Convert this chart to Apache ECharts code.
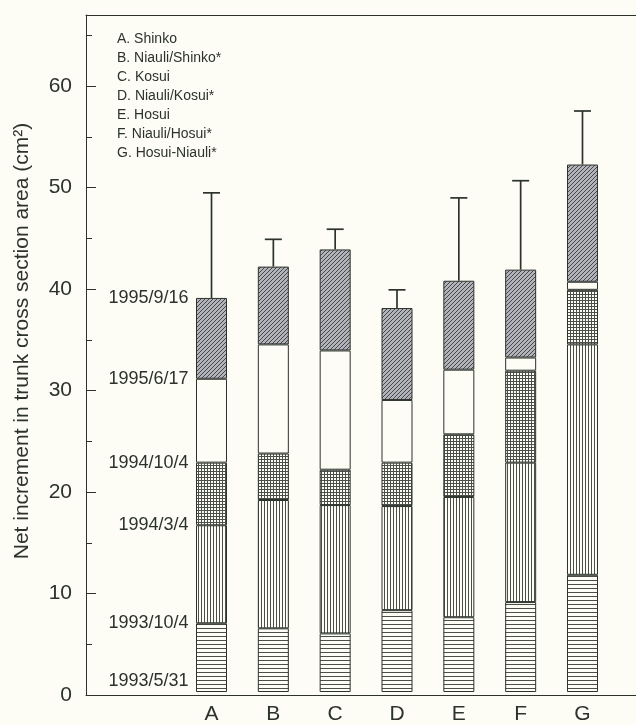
<!DOCTYPE html>
<html><head><meta charset="utf-8">
<script src="https://cdn.jsdelivr.net/npm/echarts@6/dist/echarts.min.js"></script>
<style>html,body{margin:0;padding:0;background:#fdfcf5}#c{width:636px;height:725px}</style>
</head><body><div id="c"></div>
<script>
// ---- data ----
const categories = ['A', 'B', 'C', 'D', 'E', 'F', 'G'];
const legendLabels = ['A. Shinko', 'B. Niauli/Shinko*', 'C. Kosui', 'D. Niauli/Kosui*', 'E. Hosui', 'F. Niauli/Hosui*', 'G. Hosui-Niauli*'];
const periodDates = ['1993/5/31', '1993/10/4', '1994/3/4', '1994/10/4', '1995/6/17', '1995/9/16'];
// increments per period (cm^2)
const seg1 = [6.8, 6.3, 5.8, 8.1, 7.4, 8.9, 11.6];   // 1993/5/31 - 1993/10/4
const seg2 = [9.7, 12.7, 12.7, 10.3, 11.9, 13.8, 22.8]; // 1993/10/4 - 1994/3/4
const seg3 = [6.2, 4.6, 3.5, 4.3, 6.2, 9.1, 5.4];     // 1994/3/4 - 1994/10/4
const seg4 = [8.3, 10.8, 11.8, 6.2, 6.4, 1.3, 0.8];   // 1994/10/4 - 1995/6/17
const seg5 = [8.0, 7.7, 10.0, 9.1, 8.8, 8.7, 11.6];   // 1995/6/17 - 1995/9/16
const errUpper = [10.4, 2.7, 2.0, 1.8, 8.2, 8.8, 5.3];
const yMin = 0, yMax = 67, yInterval = 10;

// ---- styling helpers ----
const INK = '#2b332c';
const FONT = 'Liberation Sans, Arial, sans-serif';
function pattern(kind) {
  const c = document.createElement('canvas');
  const s = kind === 'h' ? 4 : 3;
  c.width = s; c.height = s;
  const g = c.getContext('2d');
  if (kind === 'd') {
    c.width = 4; c.height = 4;
    g.fillStyle = '#b3b3ba'; g.fillRect(0, 0, 4, 4);
    g.fillStyle = '#45454c';
    for (let i = 0; i < 4; i++) g.fillRect(i, 3 - i, 1, 1);
  } else {
    g.fillStyle = '#fdfcf5'; g.fillRect(0, 0, s, s);
    g.fillStyle = '#4a4f4a';
    if (kind === 'h' || kind === 'g') g.fillRect(0, 0, s, 1);
    if (kind === 'v' || kind === 'g') g.fillRect(0, 0, 1, s);
  }
  return { image: c, repeat: 'repeat' };
}
const fills = [pattern('h'), pattern('v'), pattern('g'), '#fdfcf5', pattern('d')];
const segs = [seg1, seg2, seg3, seg4, seg5];

const totals = categories.map((_, i) => segs.reduce((s, a) => s + a[i], 0));
const cumA = [0];
segs.forEach(a => cumA.push(cumA[cumA.length - 1] + a[0]));

const chart = echarts.init(document.getElementById('c'), null, { renderer: 'canvas' });

const barSeries = segs.map((arr, k) => ({
  type: 'bar', stack: 'net', xAxisIndex: 2, yAxisIndex: 1,
  barWidth: 31, data: arr,
  itemStyle: { color: fills[k], borderColor: INK, borderWidth: 1 },
  silent: true, animation: false
}));

const option = {
  backgroundColor: '#fdfcf5',
  animation: false,
  grid: [
    { left: 86, top: 15, width: 600, height: 680 },
    { left: 180.6, top: 15, width: 432.8, height: 680 }
  ],
  xAxis: [
    { gridIndex: 0, type: 'value', min: 0, max: 1, position: 'bottom', axisLine: { lineStyle: { color: INK } }, axisTick: { show: false }, axisLabel: { show: false }, splitLine: { show: false } },
    { gridIndex: 0, type: 'value', min: 0, max: 1, position: 'top', axisLine: { lineStyle: { color: INK } }, axisTick: { show: false }, axisLabel: { show: false }, splitLine: { show: false } },
    { gridIndex: 1, type: 'category', data: categories, axisLine: { show: false }, axisTick: { show: false },
      axisLabel: { fontSize: 21, color: INK, fontFamily: FONT, margin: 12 } }
  ],
  yAxis: [
    { gridIndex: 0, type: 'value', min: yMin, max: yMax, interval: yInterval,
      axisLine: { show: true, lineStyle: { color: INK } },
      axisTick: { show: true, inside: true, length: 10, lineStyle: { color: INK } },
      minorTick: { show: true, splitNumber: 2, length: 6, lineStyle: { color: INK } },
      axisLabel: { fontSize: 21, color: INK, fontFamily: FONT, margin: 14, showMaxLabel: false,
        formatter: v => (v % 10 === 0 ? String(v) : '') },
      splitLine: { show: false } },
    { gridIndex: 1, type: 'value', min: yMin, max: yMax, show: false, splitLine: { show: false } }
  ],
  graphic: [
    { type: 'text', x: 22, y: 341, rotation: Math.PI / 2,
      style: { text: 'Net increment in trunk cross section area (cm²)', font: '21px ' + FONT, fill: INK, align: 'center', verticalAlign: 'middle' } },
    ...legendLabels.map((t, i) => ({
      type: 'text', left: 117, top: 32 + i * 19,
      style: { text: t, font: '14px ' + FONT, fill: INK }
    }))
  ],
  series: [
    ...barSeries,
    { type: 'custom', xAxisIndex: 2, yAxisIndex: 1, silent: true,
      data: categories.map((c, i) => [i, totals[i], totals[i] + errUpper[i]]),
      renderItem: (params, api) => {
        const p1 = api.coord([api.value(0), api.value(1)]);
        const p2 = api.coord([api.value(0), api.value(2)]);
        const st = { stroke: INK, lineWidth: 1.7 };
        return { type: 'group', children: [
          { type: 'line', shape: { x1: p1[0], y1: p1[1], x2: p2[0], y2: p2[1] }, style: st },
          { type: 'line', shape: { x1: p2[0] - 8.5, y1: p2[1], x2: p2[0] + 8.5, y2: p2[1] }, style: st }
        ] };
      } },
    { type: 'custom', xAxisIndex: 2, yAxisIndex: 1, silent: true,
      data: periodDates.map((d, i) => [0, cumA[i], d]),
      renderItem: (params, api) => {
        const p = api.coord([api.value(0), api.value(1)]);
        const isBase = params.dataIndex === 0;
        return { type: 'text', x: p[0] - 23, y: p[1] - (isBase ? 2 : 0),
          style: { text: periodDates[params.dataIndex], font: '18px ' + FONT, fill: INK, align: 'right', verticalAlign: isBase ? 'bottom' : 'middle' } };
      } }
  ]
};
chart.setOption(option);
</script>
</body></html>
